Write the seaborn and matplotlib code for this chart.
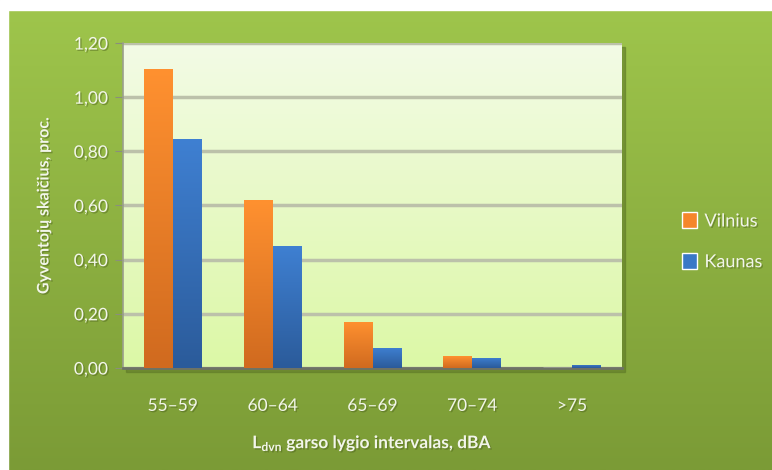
import numpy as np
import pandas as pd
import seaborn as sns
import matplotlib.pyplot as plt
import matplotlib.patheffects as pe
from matplotlib.colors import LinearSegmentedColormap
from matplotlib.patches import Rectangle
from matplotlib.ticker import FuncFormatter, MultipleLocator

# --- data
intervals = ['55–59', '60–64', '65–69', '70–74', '>75']
vilnius = [1.105, 0.62, 0.17, 0.043, 0.0]
kaunas = [0.847, 0.452, 0.074, 0.037, 0.012]
cities = ['Vilnius', 'Kaunas']

df = pd.DataFrame({
    'interval': intervals * 2,
    'value': vilnius + kaunas,
    'city': ['Vilnius'] * len(intervals) + ['Kaunas'] * len(intervals),
})

sns.set_style('white')
plt.rcParams['font.family'] = ['Lato', 'DejaVu Sans']
plt.rcParams['mathtext.fontset'] = 'custom'
plt.rcParams['mathtext.rm'] = 'Lato:bold'

fig = plt.figure(figsize=(7.72, 4.70), dpi=100)

# green gradient background of the whole chart
bg = fig.add_axes([0, 0, 1, 1], zorder=-10)
grad = np.linspace(0, 1, 256).reshape(-1, 1)
green = LinearSegmentedColormap.from_list('g', ['#9fc64c', '#7b9b36'])
bg.imshow(grad, cmap=green, aspect='auto', extent=[0, 1, 0, 1], origin='upper')
bg.add_patch(Rectangle((0, 0), 8 / 772, 1, color='white', transform=bg.transAxes))
bg.add_patch(Rectangle((0, 1 - 10 / 470), 1, 10 / 470, color='white', transform=bg.transAxes))
bg.set_xlim(0, 1)
bg.set_ylim(0, 1)
bg.axis('off')

# shadow behind plot area
x0, x1 = 123 / 772, 622 / 772
y0, y1 = 1 - 368 / 470, 1 - 43 / 470
bg.add_patch(Rectangle((x0 + 3 / 772, y0 - 4 / 470), x1 - x0, y1 - y0,
                       color='#5f7a28', alpha=0.6, transform=bg.transAxes))

ax = fig.add_axes([x0, y0, x1 - x0, y1 - y0])
palette = {'Vilnius': '#f5862a', 'Kaunas': '#3a78c6'}
sns.barplot(data=df, x='interval', y='value', hue='city', hue_order=cities,
            palette=palette, width=0.58, saturation=1, ax=ax, zorder=3)

# plot area gradient
ax.imshow(grad, cmap=LinearSegmentedColormap.from_list('p', ['#f3fbe6', '#dcf8a6']),
          aspect='auto', extent=[-0.5, 4.5, 0, 1.2], origin='upper', zorder=0)

# gradient fill in bars
grads = {
    'Vilnius': LinearSegmentedColormap.from_list('o', ['#ff9130', '#d06a1f']),
    'Kaunas': LinearSegmentedColormap.from_list('b', ['#3f80d2', '#2b5b9a']),
}
n = len(intervals)
for i, patch in enumerate(ax.patches[:2 * n]):
    city = cities[i // n]
    bx, by = patch.get_x(), patch.get_y()
    bw, bh = patch.get_width(), patch.get_height()
    if bh <= 0:
        continue
    im = ax.imshow(grad, cmap=grads[city], aspect='auto',
                   extent=[bx, bx + bw, by, by + bh], origin='upper', zorder=4)
    im.set_clip_path(patch)
    patch.set_edgecolor('none')

ax.set_xlim(-0.5, 4.5)
ax.set_ylim(0, 1.2)
ax.yaxis.set_major_locator(MultipleLocator(0.2))
ax.yaxis.set_major_formatter(FuncFormatter(lambda v, p: f'{v:.2f}'.replace('.', ',')))
ax.grid(axis='y', color='#bcc1aa', linewidth=2.5, zorder=1)
ax.set_axisbelow(True)

for s in ['top', 'right']:
    ax.spines[s].set_visible(False)
ax.spines['left'].set_color('#9a9f8c')
ax.spines['left'].set_linewidth(1.2)
ax.spines['bottom'].set_color('#6e7266')
ax.spines['bottom'].set_linewidth(2)

txt = '#f2f5ea'
shadow = [pe.SimplePatchShadow(offset=(1, -1), shadow_rgbFace='#4a5e1c', alpha=0.45),
          pe.Normal()]
ax.tick_params(axis='y', left=True, length=6, color='#8a8f7c', labelcolor=txt,
               labelsize=12.5, pad=5)
ax.tick_params(axis='x', bottom=False, labelcolor=txt, labelsize=12.5, pad=18)
for t in ax.get_xticklabels() + ax.get_yticklabels():
    t.set_path_effects(shadow)

ax.set_ylabel('Gyventojų skaičius, proc.', color=txt, fontsize=11.5,
              fontweight='bold', labelpad=16, path_effects=shadow)
ax.set_xlabel(r'L$_{\mathrm{dvn}}$ garso lygio intervalas, dBA', color=txt,
              fontsize=12.5, fontweight='bold', labelpad=14, path_effects=shadow)

leg = ax.legend(loc='center left', bbox_to_anchor=(1.12, 0.39), frameon=False,
                fontsize=13, labelspacing=1.3, handlelength=0.85, handleheight=1.0,
                handletextpad=0.4, borderpad=0, borderaxespad=0)
for t in leg.get_texts():
    t.set_color(txt)
    t.set_path_effects(shadow)

fig.savefig('out.png', dpi=100)
